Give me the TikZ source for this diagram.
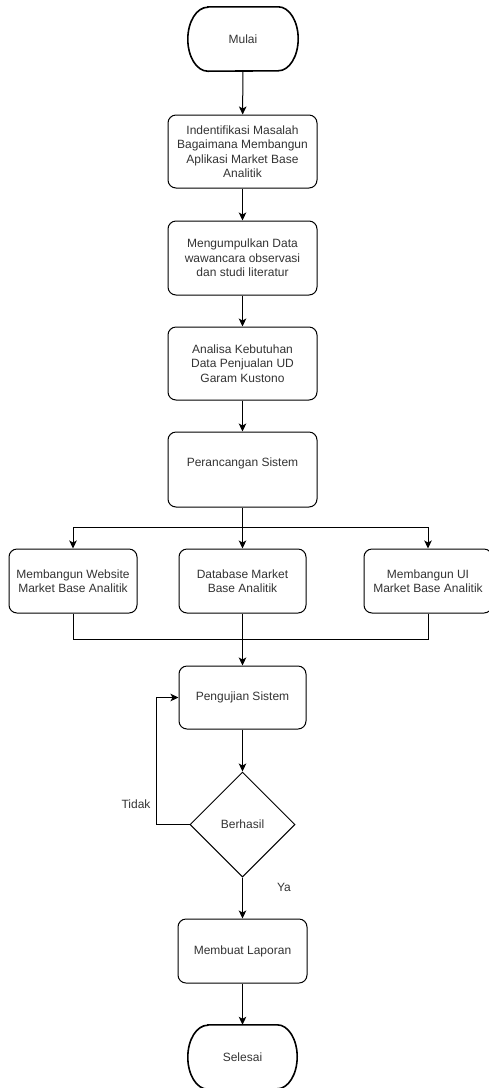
\documentclass[tikz,border=0pt]{standalone}
\usepackage{fontspec}
\setmainfont{Liberation Sans}
\usetikzlibrary{arrows.meta,shapes.geometric}
\definecolor{txt}{HTML}{333333}
\newcommand\myterm[1]{\draw[line width=1.6pt] ([xshift=20pt]#1.north west) -- ([xshift=-20pt]#1.north east) arc[start angle=90,end angle=-90,x radius=20pt,y radius=32pt] -- ([xshift=20pt]#1.south west) arc[start angle=270,end angle=90,x radius=20pt,y radius=32pt] -- cycle;}
\begin{document}
\begin{tikzpicture}[x=1pt,y=1pt,
  every node/.style={font=\fontsize{12}{14.5}\selectfont, text=txt, align=center, inner sep=0pt},
  box/.style={draw=black, line width=1pt, rounded corners=8pt, minimum width=149pt, minimum height=73pt},
  sbox/.style={draw=black, line width=1pt, rounded corners=8pt, minimum width=128pt, minimum height=64pt},
  termnode/.style={minimum width=110pt, minimum height=64pt},
  dia/.style={draw=black, diamond, aspect=1, minimum width=105pt, minimum height=105pt, line width=1pt},
  conn/.style={line width=1pt, -{Stealth[length=8pt,width=7.5pt,inset=2pt]}},
  plainline/.style={line width=1pt}]
\useasboundingbox (0,0) rectangle (488,-1088);
\node[termnode] (mulai) at (243,-39) {Mulai};
\myterm{mulai}
\node[box] (b1) at (242.5,-151.5) {Indentifikasi Masalah\\Bagaimana Membangun\\Aplikasi Market Base\\Analitik};
\node[box, minimum height=74pt] (b2) at (242.5,-258) {Mengumpulkan Data\\wawancara observasi\\dan studi literatur};
\node[box] (b3) at (242.5,-363.5) {Analisa Kebutuhan\\Data Penjualan UD\\Garam Kustono};
\node[box, minimum height=75pt] (b4) at (242.5,-469.5) {\raisebox{15pt}{Perancangan Sistem}};
\node[sbox] (L) at (73,-581) {Membangun Website\\Market Base Analitik};
\node[sbox, minimum width=127pt] (M) at (242.5,-581) {Database Market\\Base Analitik};
\node[sbox] (R) at (428,-581) {Membangun UI\\Market Base Analitik};
\node[sbox, minimum width=127pt, minimum height=63pt] (P) at (242.5,-697.5) {Pengujian Sistem};
\node[dia] (D) at (242.5,-824.5) {Berhasil};
\node[sbox, minimum width=129pt] (lap) at (242.5,-951) {Membuat Laporan};
\node[termnode, minimum width=109pt] (sel) at (242.5,-1057) {Selesai};
\myterm{sel}
\node (tidak) at (136,-804) {Tidak};
\node (ya) at (284,-887) {Ya};
\coordinate (br) at (242.5,-527);
\coordinate (mg) at (242.5,-639);
\draw[conn] (mulai) -- (b1);
\draw[conn] (b1) -- (b2);
\draw[conn] (b2) -- (b3);
\draw[conn] (b3) -- (b4);
\draw[plainline] (b4.south) -- (br);
\draw[conn] (br) -| (L.north);
\draw[conn] (br) -| (R.north);
\draw[conn] (br) -- (M.north);
\draw[plainline] (L.south) |- (mg);
\draw[plainline] (R.south) |- (mg);
\draw[conn] (M.south) -- (P.north);
\draw[conn] (P) -- (D);
\draw[conn] (D.west) -- ++(-33,0) |- (P.west);
\draw[conn] (D) -- (lap);
\draw[conn] (lap) -- (sel);
\end{tikzpicture}
\end{document}
